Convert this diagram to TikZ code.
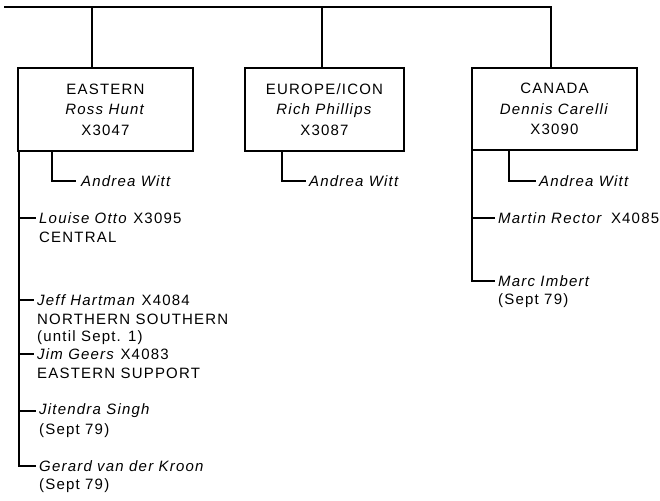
\documentclass[tikz,border=0pt]{standalone}
\usepackage{fontspec}
\setmainfont{Liberation Sans}[LetterSpace=8]
\begin{document}
\begin{tikzpicture}[x=1pt,y=-1pt,
  font=\fontsize{15}{20.5}\selectfont,
  wire/.style={draw, line width=1.7pt},
  box/.style={draw, line width=1.9pt, rectangle, align=center, inner sep=0pt},
  leaf/.style={anchor=west, inner xsep=3pt, inner ysep=0pt}]
\useasboundingbox (0,0) rectangle (660,500);

% regional boxes
\node[box, minimum width=175pt, minimum height=83pt] (eastern) at (105.5,109.5)
  {EASTERN\\\textit{Ross Hunt}\\X3047};
\node[box, minimum width=159pt, minimum height=83pt] (europe) at (324.5,109.5)
  {EUROPE/ICON\\\textit{Rich Phillips}\\X3087};
\node[box, minimum width=165pt, minimum height=82pt] (canada) at (554.5,109)
  {CANADA\\\textit{Dennis Carelli}\\X3090};

% top bus and stems
\coordinate (busL) at (4,7);
\coordinate (s1) at (92,7);
\coordinate (s2) at (322,7);
\coordinate (s3) at (551,7);
\draw[wire] (busL) -- (s3) -- (s3 |- canada.north);
\draw[wire] (s1) -- (s1 |- eastern.north);
\draw[wire] (s2) -- (s2 |- europe.north);

% assistants below each box
\node[leaf, inner xsep=5pt] (ew) at (76,181) {\textit{Andrea Witt}};
\node[leaf] (uw) at (306,181) {\textit{Andrea Witt}};
\node[leaf] (cw) at (536,181) {\textit{Andrea Witt}};
\draw[wire] ([xshift=35pt]eastern.south west) |- (ew.west);
\draw[wire] ([xshift=38pt]europe.south west) |- (uw.west);
\draw[wire] ([xshift=38pt]canada.south west) |- (cw.west);

% eastern staff
\coordinate (et) at ([xshift=2pt]eastern.south west);
\node[leaf] (louise) at (36,218) {\textit{Louise Otto} X3095};
\node[leaf] (louise2) at (36,237) {CENTRAL};
\node[leaf] (jeff) at (34,300) {\textit{Jeff Hartman} X4084};
\node[leaf] (jeff2) at (34,319) {NORTHERN SOUTHERN};
\node[leaf] (jeff3) at (34,338) {(until Sept. 1)};
\node[leaf] (jim) at (34,354) {\textit{Jim Geers} X4083};
\node[leaf] (jim2) at (34,373) {EASTERN SUPPORT};
\node[leaf] (jit) at (36,411) {\textit{Jitendra Singh}};
\node[leaf] (jit2) at (36,431) {(Sept 79)};
\node[leaf] (gerard) at (36,466) {\textit{Gerard van der Kroon}};
\node[leaf] (gerard2) at (36,486) {(Sept 79)};
\draw[wire] (et) |- (gerard.west);
\foreach \n in {louise,jeff,jim,jit}
  \draw[wire] (et |- \n.west) -- (\n.west);

% canada staff
\coordinate (ct) at ([xshift=1pt]canada.south west);
\node[leaf] (martin) at (495,218) {\textit{Martin Rector}\, X4085};
\node[leaf] (marc) at (495,281) {\textit{Marc Imbert}};
\node[leaf] (marc2) at (495,301) {(Sept 79)};
\draw[wire] (ct) |- (marc.west);
\draw[wire] (ct |- martin.west) -- (martin.west);
\end{tikzpicture}
\end{document}
